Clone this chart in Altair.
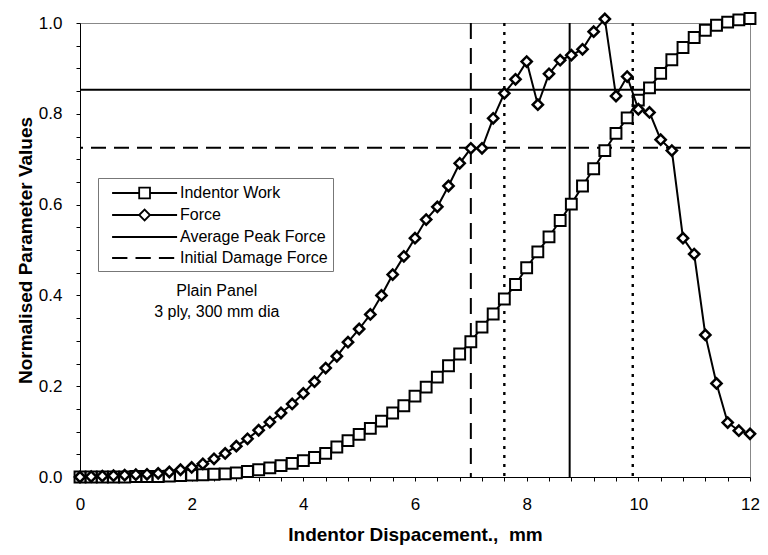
import altair as alt
import pandas as pd

# ---------------- data ----------------
x_mm = [0.0, 0.2, 0.4, 0.6, 0.8, 1.0, 1.2, 1.4, 1.6, 1.8,
        2.0, 2.2, 2.4, 2.6, 2.8, 3.0, 3.2, 3.4, 3.6, 3.8,
        4.0, 4.2, 4.4, 4.6, 4.8, 5.0, 5.2, 5.4, 5.6, 5.8,
        6.0, 6.2, 6.4, 6.6, 6.8, 7.0, 7.2, 7.4, 7.6, 7.8,
        8.0, 8.2, 8.4, 8.6, 8.8, 9.0, 9.2, 9.4, 9.6, 9.8,
        10.0, 10.2, 10.4, 10.6, 10.8, 11.0, 11.2, 11.4, 11.6, 11.8, 12.0]

indentor_work = [0.000, 0.000, 0.000, 0.000, 0.000, 0.001, 0.001, 0.001, 0.002, 0.003,
                 0.004, 0.005, 0.006, 0.007, 0.009, 0.012, 0.016, 0.020, 0.025, 0.030,
                 0.036, 0.043, 0.052, 0.066, 0.080, 0.094, 0.107, 0.123, 0.141, 0.157,
                 0.178, 0.198, 0.220, 0.245, 0.271, 0.298, 0.330, 0.359, 0.392, 0.424,
                 0.461, 0.496, 0.529, 0.565, 0.601, 0.641, 0.679, 0.719, 0.757, 0.791,
                 0.830, 0.857, 0.889, 0.919, 0.946, 0.968, 0.984, 0.995, 1.002, 1.007, 1.010]

force = [0.000, 0.001, 0.002, 0.003, 0.004, 0.005, 0.006, 0.008, 0.011, 0.016,
         0.021, 0.029, 0.040, 0.052, 0.068, 0.084, 0.103, 0.121, 0.141, 0.161,
         0.184, 0.210, 0.240, 0.266, 0.297, 0.326, 0.358, 0.400, 0.446, 0.486,
         0.526, 0.567, 0.595, 0.641, 0.691, 0.724, 0.724, 0.790, 0.845, 0.876,
         0.915, 0.820, 0.888, 0.918, 0.929, 0.942, 0.981, 1.009, 0.839, 0.882,
         0.810, 0.803, 0.743, 0.719, 0.526, 0.491, 0.313, 0.206, 0.120, 0.102, 0.095]

avg_peak_force = [0.853]
initial_damage_force = [0.725]
x_dashed_v = [7.0]
x_dotted_v = [7.6, 9.9]
x_solid_v = [8.77]

legend_names = ["Indentor Work", "Force", "Average Peak Force", "Initial Damage Force"]
note_text = ["Plain Panel", "3 ply, 300 mm dia"]
note_x = [2.45, 2.45]
note_y = [0.41, 0.364]

x_tick_values = [0, 0.4, 0.8, 1.2, 1.6, 2, 2.4, 2.8, 3.2, 3.6, 4, 4.4, 4.8, 5.2, 5.6,
                 6, 6.4, 6.8, 7.2, 7.6, 8, 8.4, 8.8, 9.2, 9.6, 10, 10.4, 10.8, 11.2, 11.6, 12]
y_tick_values = [0, 0.05, 0.1, 0.15, 0.2, 0.25, 0.3, 0.35, 0.4, 0.45, 0.5,
                 0.55, 0.6, 0.65, 0.7, 0.75, 0.8, 0.85, 0.9, 0.95, 1.0]

# ---------------- tables ----------------
work_df = pd.DataFrame({"x": x_mm, "y": indentor_work})
force_df = pd.DataFrame({"x": x_mm, "y": force})
hsolid_df = pd.DataFrame({"y": avg_peak_force})
hdash_df = pd.DataFrame({"y": initial_damage_force})
vdash_df = pd.DataFrame({"x": x_dashed_v})
vdot_df = pd.DataFrame({"x": x_dotted_v})
vsolid_df = pd.DataFrame({"x": x_solid_v})
note_df = pd.DataFrame({"x": note_x, "y": note_y, "t": note_text})
legend_df = pd.DataFrame({"series": legend_names})

FONT = "Liberation Sans"

x_enc = alt.X("x:Q",
              scale=alt.Scale(domain=[0, 12], nice=False, zero=False),
              axis=alt.Axis(values=x_tick_values,
                            labelExpr="abs(datum.value/2 - round(datum.value/2)) < 0.001 ? format(datum.value, 'd') : ''",
                            title="Indentor Dispacement., \u00a0mm",
                            titleFontSize=19, titleFontWeight="bold", titlePadding=13,
                            labelFontSize=17, labelPadding=15, tickSize=4,
                            labelFlush=False, labelOverlap=False, grid=False))
y_enc = alt.Y("y:Q",
              scale=alt.Scale(domain=[0, 1], nice=False, zero=True),
              axis=alt.Axis(values=y_tick_values,
                            labelExpr="abs(datum.value/0.2 - round(datum.value/0.2)) < 0.001 ? format(datum.value, '.1f') : ''",
                            title="Normalised Parameter Values",
                            titleFontSize=19, titleFontWeight="bold", titlePadding=3,
                            labelFontSize=17, labelPadding=14, tickSize=4,
                            labelFlush=False, labelOverlap=False, grid=False))

hsolid = alt.Chart(hsolid_df).mark_rule(color="black", strokeWidth=2).encode(y=y_enc)
hdash = alt.Chart(hdash_df).mark_rule(color="black", strokeWidth=2, strokeDash=[15, 8]).encode(y=y_enc)
vdash = alt.Chart(vdash_df).mark_rule(color="black", strokeWidth=2, strokeDash=[16, 9]).encode(x=x_enc)
vdot = alt.Chart(vdot_df).mark_rule(color="black", strokeWidth=2.4, strokeDash=[3, 6]).encode(x=x_enc)
vsolid = alt.Chart(vsolid_df).mark_rule(color="black", strokeWidth=2).encode(x=x_enc)

work_line = alt.Chart(work_df).mark_line(color="black", strokeWidth=2).encode(x=x_enc, y=y_enc)
work_pts = alt.Chart(work_df).mark_point(shape="square", size=118, filled=True, fill="white",
                                         stroke="black", strokeWidth=2, opacity=1).encode(x=x_enc, y=y_enc)
force_line = alt.Chart(force_df).mark_line(color="black", strokeWidth=2).encode(x=x_enc, y=y_enc)
force_pts = alt.Chart(force_df).mark_point(shape="diamond", size=105, filled=True, fill="white",
                                           stroke="black", strokeWidth=2.5, opacity=1).encode(x=x_enc, y=y_enc)

notes = alt.Chart(note_df).mark_text(font=FONT, fontSize=16, color="black", align="center",
                                     baseline="middle").encode(x=x_enc, y=y_enc, text="t:N")

# legend symbols: line + marker drawn as custom symbol paths (unit = 9 px)
legend_paths = [
    "M-0.1,0H2.91M2.91,-0.6H4.11V0.6H2.91ZM4.11,0H7.12",
    "M-0.1,0H2.91M2.91,0L3.51,-0.6L4.11,0L3.51,0.6ZM4.11,0H7.12",
    "M-0.1,0H7.12",
    "M-0.1,0H1.6M2.5,0H4.2M5.1,0H6.8",
]
legend_layer = alt.Chart(legend_df).mark_point(filled=False, color="black", opacity=1,
                                               strokeWidth=1.8).encode(
    x=alt.value(-3000), y=alt.value(-3000),
    shape=alt.Shape("series:N",
                    scale=alt.Scale(domain=legend_names, range=legend_paths),
                    legend=alt.Legend(title=None, orient="none", legendX=18, legendY=155,
                                      symbolSize=324, symbolStrokeWidth=1.8,
                                      symbolStrokeColor="black",
                                      symbolOpacity=1,
                                      labelFont=FONT, labelFontSize=16, labelColor="black",
                                      labelOffset=57, padding=5, rowPadding=3,
                                      strokeColor="#777777", fillColor="white")))

chart = alt.layer(
    hsolid, hdash, vdash, vdot, vsolid,
    work_line, work_pts, force_line, force_pts,
    notes, legend_layer,
).properties(
    width=670, height=454,
    autosize=alt.AutoSizeParams(type="none"),
    padding={"left": 80, "top": 23, "right": 18, "bottom": 78},
    background="white",
).configure_view(
    stroke="#888888", strokeWidth=1
).configure_axis(
    domainColor="black", tickColor="black", labelColor="black", titleColor="black",
    labelFont=FONT, titleFont=FONT, domainWidth=1
)

chart.save("out.html", embed_options={"renderer": "svg", "actions": False})
